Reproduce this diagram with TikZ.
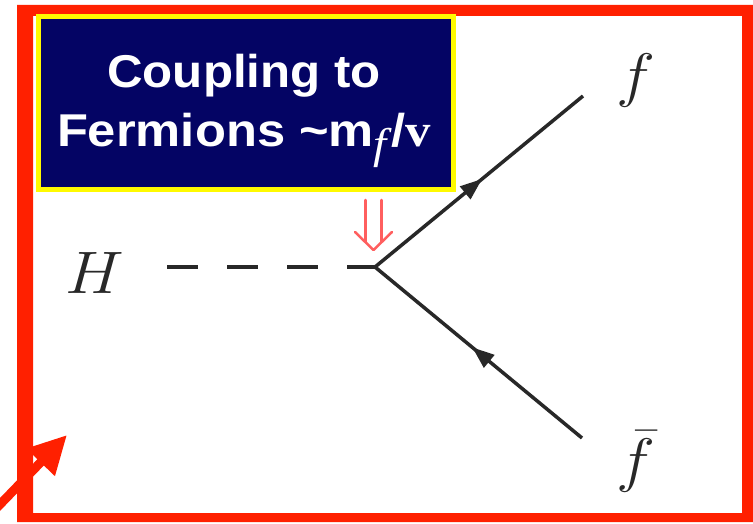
\RequirePackage{fix-cm}
\documentclass[tikz,border=0pt]{standalone}
\usepackage{fontspec}
\setmainfont{Liberation Sans}
\newfontfamily\timesf{Liberation Serif}
\usetikzlibrary{arrows.meta,decorations.markings}
\definecolor{bred}{RGB}{255,32,0}
\definecolor{navy}{RGB}{4,4,100}
\definecolor{ylw}{RGB}{255,250,0}
\definecolor{pinkred}{RGB}{255,95,95}
\definecolor{ink}{RGB}{40,40,40}
\begin{document}
\begin{tikzpicture}[x=1pt,y=-1pt,
  frame/.style={fill=bred,even odd rule},
  titlebox/.style={draw=ylw,fill=navy,line width=5pt,inner sep=0pt,anchor=north west},
  titletext/.style={text=white,inner sep=0pt,xscale=1.07,anchor=base,
    font=\fontsize{46}{59}\selectfont\bfseries},
  scalar/.style={draw=ink,line width=4pt,dash pattern=on 31pt off 29pt},
  fermion/.style={draw=ink,line width=3.5pt,postaction={decorate},
    decoration={markings,mark=at position #1 with {\arrow{Triangle[length=22pt,width=16pt]}}}},
  lbl/.style={text=ink,font=\fontsize{60}{60}\selectfont,xscale=1.1,inner sep=0pt,anchor=base},
  marker/.style={draw=pinkred,line width=2.5pt,line cap=round,line join=round},
  bigarrow/.style={draw=bred,line width=9pt,-{Triangle[length=38pt,width=37pt]}}
]
\useasboundingbox (0,0) rectangle (753,524);
\clip (0,0) rectangle (753,524);
\fill[white] (0,0) rectangle (753,524);

% red frame
\path[frame] (17,5) rectangle (760,522) (33,16) rectangle (742,513);

% title box
\node[titlebox,minimum width=415pt,minimum height=173pt] (title) at (35.5,14.5) {};
\node[titletext] (line1) at (244,88) {Coupling to};
\node[titletext,xscale=1.03] (line2) at (244,147)
  {Fermions \textasciitilde m\raisebox{-12pt}{\fontsize{43}{43}\selectfont\timesf\mdseries\itshape f\kern4pt}/{\timesf v}};

% coordinates of the diagram
\coordinate (hs) at (167,267);
\coordinate (v) at (375,267);
\coordinate (fe) at (583,96);
\coordinate (fbe) at (582,438);

% labels
\node[lbl] (H) at (95,293) {$H$};
\node[lbl] (f) at (636,96) {$f$};
\node[lbl] (fb) at (636,480) {$\bar f$};

% lines
\draw[scalar] (hs) -- (v);
\draw[fermion=0.515] (v) -- (fe);
\draw[fermion=0.53] (fbe) -- (v);

% small red double arrow
\draw[marker] (365.5,200) -- (365.5,242);
\draw[marker] (381.5,200) -- (381.5,242);
\draw[marker] (355,232) -- (373.5,250) -- (392,232);

% big red arrow
\coordinate (ra0) at (-14,519);
\coordinate (ra1) at (67,435);
\draw[bigarrow] (ra0) -- (ra1);
\end{tikzpicture}
\end{document}
